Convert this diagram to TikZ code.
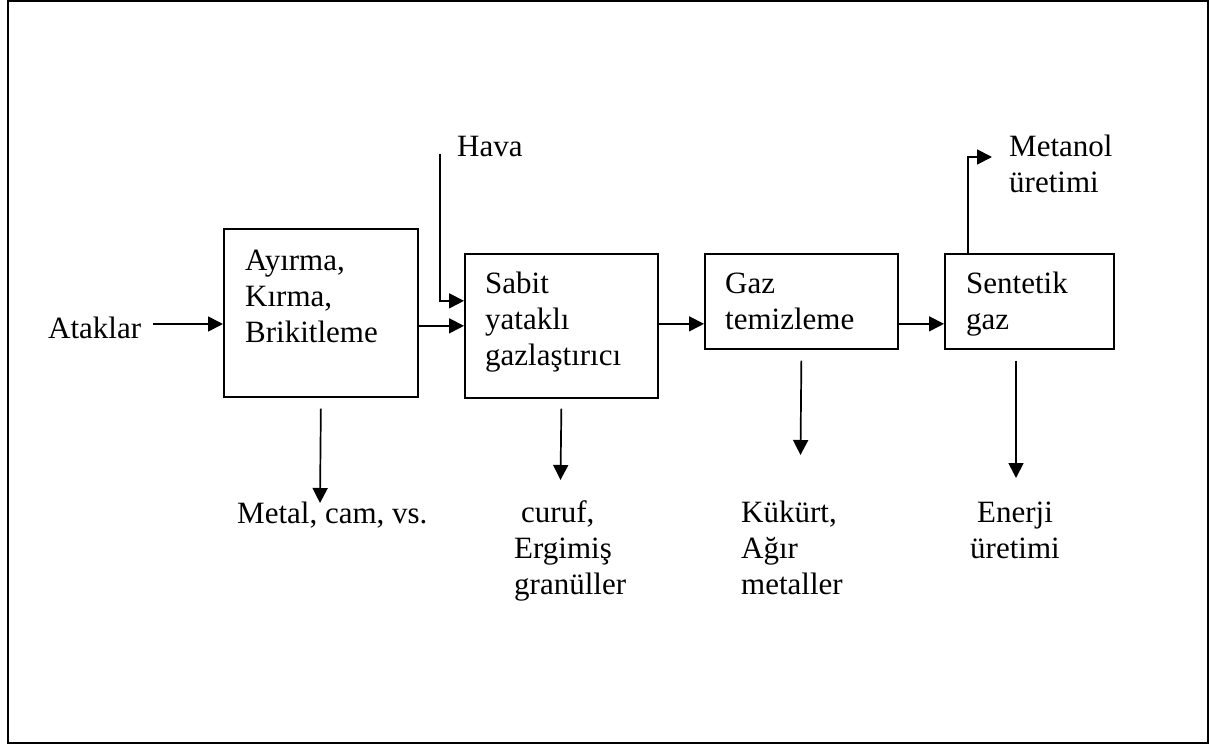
\documentclass[tikz,border=0pt]{standalone}
\usepackage{fontspec}
\setmainfont{Liberation Serif}
\usetikzlibrary{arrows.meta}
\begin{document}
\begin{tikzpicture}[x=1pt,y=-1pt,
  box/.style={draw,line width=1.7pt,inner sep=0pt,anchor=north west},
  lbl/.style={font=\fontsize{31}{35.8}\selectfont,align=left,inner sep=0pt,anchor=base west},
  flow/.style={line width=1.7pt,-{Triangle[length=15pt,width=15pt]}}]
\useasboundingbox (0,0) rectangle (1210,744);
\draw[line width=2.2pt] (8,1) rectangle (1208,743);
% boxes
\node[box,minimum width=194pt,minimum height=168pt] (b1) at (223,228) {};
\node[box,minimum width=193pt,minimum height=144pt] (b2) at (464,253) {};
\node[box,minimum width=193pt,minimum height=95pt] (b3) at (704,253) {};
\node[box,minimum width=169pt,minimum height=95pt] (b4) at (944,253) {};
% box texts (base anchor = baseline of the last line)
\node[lbl] (t1) at (245,342) {Ayırma,\\Kırma,\\Brikitleme};
\node[lbl] (t2) at (485,365) {Sabit\\yataklı\\gazlaştırıcı};
\node[lbl] (t3) at (725,329) {Gaz\\temizleme};
\node[lbl] (t4) at (966,329) {Sentetik\\gaz};
% outer labels
\node[lbl] (at) at (48,338) {Ataklar};
\node[lbl] (hava) at (457,156) {Hava};
\node[lbl] (met) at (1009,192) {Metanol\\üretimi};
\node[lbl] (mcv) at (237,523) {Metal, cam, vs.};
\node[lbl] (cur) at (514,594) {\hspace{7pt}curuf,\\Ergimiş\\granüller};
\node[lbl] (kuk) at (741,594) {Kükürt,\\Ağır\\metaller};
\node[lbl,align=center,anchor=base] (ene) at (1015,558) {Enerji\\üretimi};
% helper coordinates
\coordinate (b1in) at (223,324);
\coordinate (hv) at (440,154);
\coordinate (mo) at (992,157);
\coordinate (d1) at (320,503);
\coordinate (d2) at (560.5,480);
\coordinate (d3) at (800.5,455);
\coordinate (d4) at (1016,478);
% connectors
\draw[flow] ([xshift=12pt]b1in -| at.east) -- (b1in);
\draw[flow] (b1.east |- b2.west) -- (b2.west);
\draw[flow] (hv) |- ([yshift=25pt]b2.west);
\draw[flow] ([yshift=2pt]b2.east) -- ([yshift=2pt]b3.west |- b2.east);
\draw[flow] ([yshift=2pt]b3.east |- b2.east) -- ([yshift=2pt]b4.west |- b2.east);
\draw[flow] ([xshift=24pt]b4.north west) |- (mo);
\draw[flow] ([yshift=-11pt]b1.south) -- (d1);
\draw[flow] ([yshift=-10pt]b2.south) -- (d2);
\draw[flow] ([yshift=-11pt]b3.south) -- (d3);
\draw[flow] ([yshift=-11pt]d4 |- b4.south) -- (d4);
\end{tikzpicture}
\end{document}
